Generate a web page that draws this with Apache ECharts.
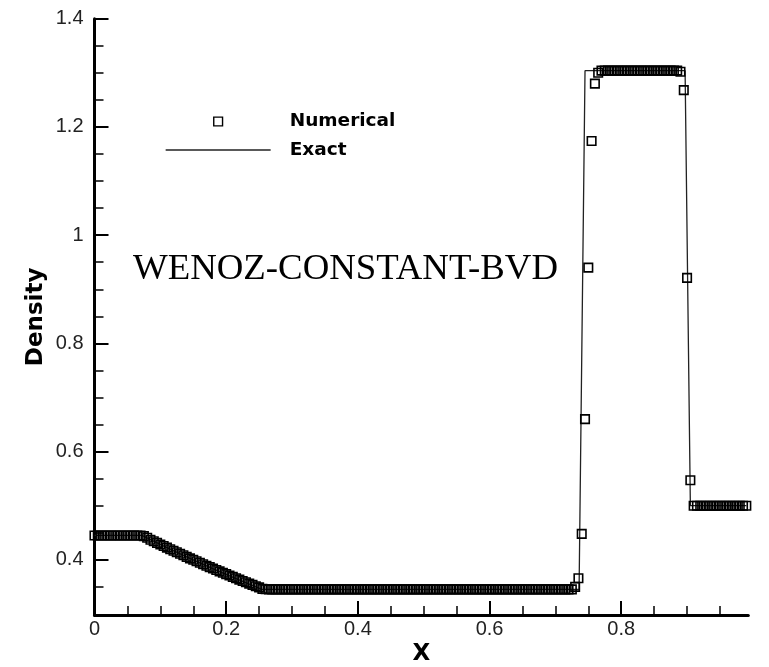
<!DOCTYPE html>
<html>
<head>
<meta charset="utf-8">
<script src="https://cdn.jsdelivr.net/npm/echarts@6.0.0/dist/echarts.min.js"></script>
<style>
html,body{margin:0;padding:0;background:#fff;}
#chart{width:769px;height:667px;}
</style>
</head>
<body>
<div id="chart"></div>
<script>
// ---- data ----
const numX = [
0,0.005,0.01,0.015,0.02,0.025,0.03,0.035,0.04,0.045,
0.05,0.055,0.06,0.065,0.07,0.075,0.08,0.085,0.09,0.095,
0.1,0.105,0.11,0.115,0.12,0.125,0.13,0.135,0.14,0.145,
0.15,0.155,0.16,0.165,0.17,0.175,0.18,0.185,0.19,0.195,
0.2,0.205,0.21,0.215,0.22,0.225,0.23,0.235,0.24,0.245,
0.25,0.255,0.26,0.265,0.27,0.275,0.28,0.285,0.29,0.295,
0.3,0.305,0.31,0.315,0.32,0.325,0.33,0.335,0.34,0.345,
0.35,0.355,0.36,0.365,0.37,0.375,0.38,0.385,0.39,0.395,
0.4,0.405,0.41,0.415,0.42,0.425,0.43,0.435,0.44,0.445,
0.45,0.455,0.46,0.465,0.47,0.475,0.48,0.485,0.49,0.495,
0.5,0.505,0.51,0.515,0.52,0.525,0.53,0.535,0.54,0.545,
0.55,0.555,0.56,0.565,0.57,0.575,0.58,0.585,0.59,0.595,
0.6,0.605,0.61,0.615,0.62,0.625,0.63,0.635,0.64,0.645,
0.65,0.655,0.66,0.665,0.67,0.675,0.68,0.685,0.69,0.695,
0.7,0.705,0.71,0.715,0.72,0.725,0.73,0.735,0.74,0.745,
0.75,0.755,0.76,0.765,0.77,0.775,0.78,0.785,0.79,0.795,
0.8,0.805,0.81,0.815,0.82,0.825,0.83,0.835,0.84,0.845,
0.85,0.855,0.86,0.865,0.87,0.875,0.88,0.885,0.89,0.895,
0.9,0.905,0.91,0.915,0.92,0.925,0.93,0.935,0.94,0.945,
0.95,0.955,0.96,0.965,0.97,0.975,0.98,0.985,0.99
];
const numY = [
0.445,0.445,0.445,0.445,0.445,0.445,0.445,0.445,0.445,0.445,
0.445,0.445,0.445,0.445,0.4449,0.4438,0.4408,0.4372,0.4342,0.4312,
0.4283,0.4254,0.4225,0.4196,0.4167,0.4139,0.4111,0.4083,0.4055,0.4027,
0.4000,0.3972,0.3945,0.3918,0.3891,0.3865,0.3839,0.3812,0.3786,0.3761,
0.3735,0.3709,0.3684,0.3659,0.3634,0.3609,0.3585,0.3560,0.3536,0.3512,
0.3490,0.3462,0.3456,0.3454,0.3454,0.3454,0.3454,0.3454,0.3454,0.3454,
0.3454,0.3454,0.3454,0.3454,0.3454,0.3454,0.3454,0.3454,0.3454,0.3454,
0.3454,0.3454,0.3454,0.3454,0.3454,0.3454,0.3454,0.3454,0.3454,0.3454,
0.3454,0.3454,0.3454,0.3454,0.3454,0.3454,0.3454,0.3454,0.3454,0.3454,
0.3454,0.3454,0.3454,0.3454,0.3454,0.3454,0.3454,0.3454,0.3454,0.3454,
0.3454,0.3454,0.3454,0.3454,0.3454,0.3454,0.3454,0.3454,0.3454,0.3454,
0.3454,0.3454,0.3454,0.3454,0.3454,0.3454,0.3454,0.3454,0.3454,0.3454,
0.3454,0.3454,0.3454,0.3454,0.3454,0.3454,0.3454,0.3454,0.3454,0.3454,
0.3454,0.3454,0.3454,0.3454,0.3454,0.3454,0.3454,0.3454,0.3454,0.3454,
0.3454,0.3454,0.3454,0.3454,0.3454,0.3454,0.350,0.366,0.448,0.660,
0.940,1.174,1.280,1.300,1.304,1.304,1.304,1.304,1.304,1.304,
1.304,1.304,1.304,1.304,1.304,1.304,1.304,1.304,1.304,1.304,
1.304,1.304,1.304,1.304,1.304,1.304,1.304,1.304,1.302,1.268,
0.921,0.547,0.5,0.5,0.5,0.5,0.5,0.5,0.5,0.5,
0.5,0.5,0.5,0.5,0.5,0.5,0.5,0.5,0.5
];
const exactX = [0, 0.072, 0.1084, 0.1448, 0.1812, 0.2176, 0.254, 0.736, 0.745, 0.897, 0.905, 0.99];
const exactY = [0.445, 0.445, 0.4234, 0.4026, 0.3829, 0.3637, 0.3454, 0.3454, 1.304, 1.304, 0.5, 0.5];

const xMajorTicks = [0, 0.2, 0.4, 0.6, 0.8];
const xMinorTicks = [0.05,0.1,0.15,0.25,0.3,0.35,0.45,0.5,0.55,0.65,0.7,0.75,0.85,0.9,0.95];
const yMajorTicks = [0.4, 0.6, 0.8, 1, 1.2, 1.4];
const yMinorTicks = [0.35,0.45,0.5,0.55,0.65,0.7,0.75,0.85,0.9,0.95,1.05,1.1,1.15,1.25,1.3,1.35];

const seriesNames = ['Numerical', 'Exact'];
const annotation = 'WENOZ-CONSTANT-BVD';
const xTitle = 'X';
const yTitle = 'Density';

// ---- chart ----
const numData = numX.map((x, i) => [x, numY[i]]);
const exactData = exactX.map((x, i) => [x, exactY[i]]);

const X_MIN = 0, X_MAX = 0.993, Y_MIN = 0.298, Y_MAX = 1.4;
const labelFont = {fontFamily: 'Liberation Sans', fontSize: 20, color: '#222'};
const nameFont = {fontFamily: 'DejaVu Sans', fontWeight: 'bold', fontSize: 23, color: '#000'};

const chart = echarts.init(document.getElementById('chart'), null, {renderer: 'canvas'});
chart.setOption({
  animation: false,
  backgroundColor: '#fff',
  title: {
    text: annotation, left: 133, top: 251, padding: 0,
    textStyle: {fontFamily: 'Liberation Serif', fontSize: 36.8, fontWeight: 'normal', color: '#000'}
  },
  legend: {
    orient: 'vertical', left: 165, top: 112, padding: 0,
    itemWidth: 105, itemHeight: 11, itemGap: 9.5,
    selectedMode: false,
    data: seriesNames,
    textStyle: {fontFamily: 'DejaVu Sans', fontWeight: 'bold', fontSize: 18.5, color: '#000', padding: [0, 0, 0, 14]},
    lineStyle: {width: 1.3},
    itemStyle: {borderWidth: 1.4}
  },
  grid: {left: 94.5, right: 20.7, top: 18.7, bottom: 52, containLabel: false, outerBoundsMode: 'none'},
  xAxis: [{
    type: 'value', min: X_MIN, max: X_MAX,
    name: xTitle, nameLocation: 'middle', nameGap: 28, nameMoveOverlap: false, nameTextStyle: nameFont,
    axisLine: {lineStyle: {color: '#000', width: 3}},
    axisTick: {inside: true, length: 14, customValues: xMajorTicks, lineStyle: {color: '#000', width: 2}},
    axisLabel: Object.assign({customValues: xMajorTicks, margin: 4}, labelFont),
    splitLine: {show: false}
  }, {
    type: 'value', min: X_MIN, max: X_MAX, position: 'bottom',
    axisLine: {show: false},
    axisTick: {inside: true, length: 9, customValues: xMinorTicks, lineStyle: {color: '#000', width: 1.5}},
    axisLabel: {show: false},
    splitLine: {show: false}
  }],
  yAxis: [{
    type: 'value', min: Y_MIN, max: Y_MAX,
    name: yTitle, nameLocation: 'middle', nameGap: 47, nameMoveOverlap: false, nameRotate: 90, nameTextStyle: nameFont,
    axisLine: {lineStyle: {color: '#000', width: 3}},
    axisTick: {inside: true, length: 14, customValues: yMajorTicks, lineStyle: {color: '#000', width: 2}},
    axisLabel: Object.assign({customValues: yMajorTicks, margin: 11}, labelFont),
    splitLine: {show: false}
  }, {
    type: 'value', min: Y_MIN, max: Y_MAX, position: 'left',
    axisLine: {show: false},
    axisTick: {inside: true, length: 9, customValues: yMinorTicks, lineStyle: {color: '#000', width: 1.5}},
    axisLabel: {show: false},
    splitLine: {show: false}
  }],
  series: [{
    name: seriesNames[0], type: 'line', xAxisIndex: 0, yAxisIndex: 0,
    data: numData, clip: false,
    symbol: 'rect', symbolSize: 8.5, showSymbol: true, showAllSymbol: true,
    lineStyle: {width: 0, opacity: 0},
    itemStyle: {color: 'rgba(0,0,0,0)', borderColor: '#000', borderWidth: 1.6},
    emphasis: {disabled: true},
    z: 3
  }, {
    name: seriesNames[1], type: 'line', xAxisIndex: 0, yAxisIndex: 0,
    data: exactData, clip: false,
    symbol: 'none', showSymbol: false,
    lineStyle: {color: '#222', width: 1.3},
    itemStyle: {color: '#222', opacity: 0},
    emphasis: {disabled: true},
    z: 2
  }]
});
</script>
</body>
</html>
